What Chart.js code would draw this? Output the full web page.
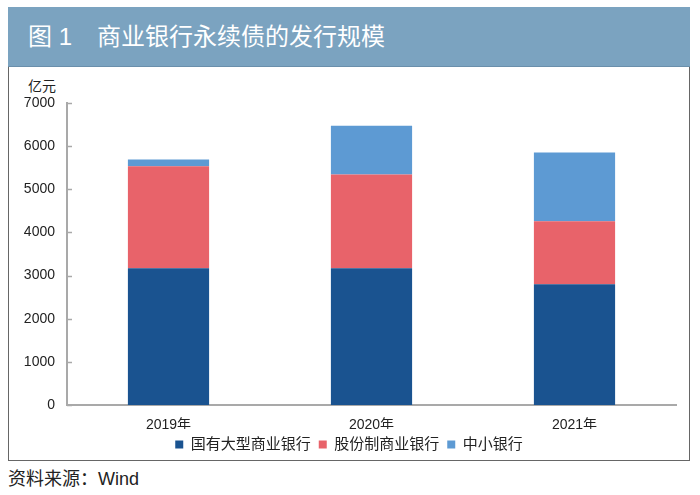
<!DOCTYPE html>
<html>
<head>
<meta charset="utf-8">
<script src="https://cdn.jsdelivr.net/npm/chart.js@4.4.0/dist/chart.umd.min.js"></script>
<style>
  body { margin: 0; background: #fff; font-family: "Liberation Sans", "Noto Sans CJK SC", sans-serif; }
  #wrap { position: relative; width: 700px; height: 495px; overflow: hidden; }
  #titlebar {
    position: absolute; left: 8px; top: 7px; width: 682px; height: 60px;
    background: #7ba3c0; border-bottom: 1px solid #6a8fab;
    color: #fff; font-size: 24px; line-height: 60px; box-sizing: border-box;
  }
  #titlebar .fig { position: absolute; left: 20px; }
  #titlebar .name { position: absolute; left: 89px; }
  #box {
    position: absolute; left: 8px; top: 67px; width: 682px; height: 394px;
    border: 1px solid #666; border-top: none; box-sizing: border-box;
  }
  #unit { position: absolute; left: 28px; top: 75px; font-size: 14px; color: #222; }
  #source { position: absolute; left: 8px; top: 464px; font-size: 18px; color: #222; }
  #chart { position: absolute; left: 0; top: 0; }
</style>
</head>
<body>
<div id="wrap">
  <div id="titlebar"><span class="fig">图 1</span><span class="name">商业银行永续债的发行规模</span></div>
  <div id="box"></div>
  <div id="unit">亿元</div>
  <div id="source">资料来源：Wind</div>
  <canvas id="chart" width="700" height="495"></canvas>
</div>

<script>
// ======================
// Data
// ======================
const years = ["2019年", "2020年", "2021年"];
const bigBanks = [3170, 3170, 2800];    // 国有大型商业银行
const jointBanks = [2365, 2170, 1460];  // 股份制商业银行
const smallBanks = [155, 1135, 1590];   // 中小银行
const yTicks = [0, 1000, 2000, 3000, 4000, 5000, 6000, 7000];

const font = "'Liberation Sans', 'Noto Sans CJK SC', sans-serif";
const axisGrey = "#a9a9a9";

// short tick marks pointing into the plot, like the original
const innerTicks = {
  id: "innerTicks",
  afterDraw(chart) {
    const y = chart.scales.y;
    const ctx = chart.ctx;
    ctx.save();
    ctx.strokeStyle = axisGrey;
    ctx.lineWidth = 1.5;
    y.ticks.forEach((t) => {
      const py = Math.round(y.getPixelForValue(t.value)) + 0.5;
      ctx.beginPath();
      ctx.moveTo(y.right, py);
      ctx.lineTo(y.right + 5, py);
      ctx.stroke();
    });
    ctx.restore();
  },
};

const ctx = document.getElementById("chart").getContext("2d");
new Chart(ctx, {
  type: "bar",
  data: {
    labels: years,
    datasets: [
      { label: "国有大型商业银行", data: bigBanks, backgroundColor: "#1a5390" },
      { label: "股份制商业银行", data: jointBanks, backgroundColor: "#e8636a" },
      { label: "中小银行", data: smallBanks, backgroundColor: "#5d9ad3" },
    ],
  },
  options: {
    responsive: false,
    animation: false,
    layout: { padding: { left: 22, right: 24, top: 103, bottom: 33 } },
    datasets: { bar: { barPercentage: 0.4, categoryPercentage: 1 } },
    plugins: {
      legend: {
        position: "bottom",
        labels: {
          boxWidth: 8,
          boxHeight: 8,
          padding: 8,
          color: "#222",
          font: { family: font, size: 15 },
        },
      },
      tooltip: { enabled: false },
    },
    scales: {
      x: {
        stacked: true,
        grid: { display: false },
        border: { color: axisGrey, width: 2 },
        ticks: { color: "#222", padding: 4, font: { family: font, size: 14 } },
        afterFit: (s) => { s.height = 24; },
      },
      y: {
        stacked: true,
        min: 0,
        max: 7000,
        afterBuildTicks: (s) => { s.ticks = yTicks.map((v) => ({ value: v })); },
        grid: { display: false, drawTicks: false },
        border: { color: axisGrey, width: 2 },
        ticks: {
          color: "#222",
          padding: 12,
          font: { family: font, size: 14 },
          callback: (v) => String(v),
        },
        afterFit: (s) => { s.width = 45; },
      },
    },
  },
  plugins: [innerTicks],
});
</script>
</body>
</html>
